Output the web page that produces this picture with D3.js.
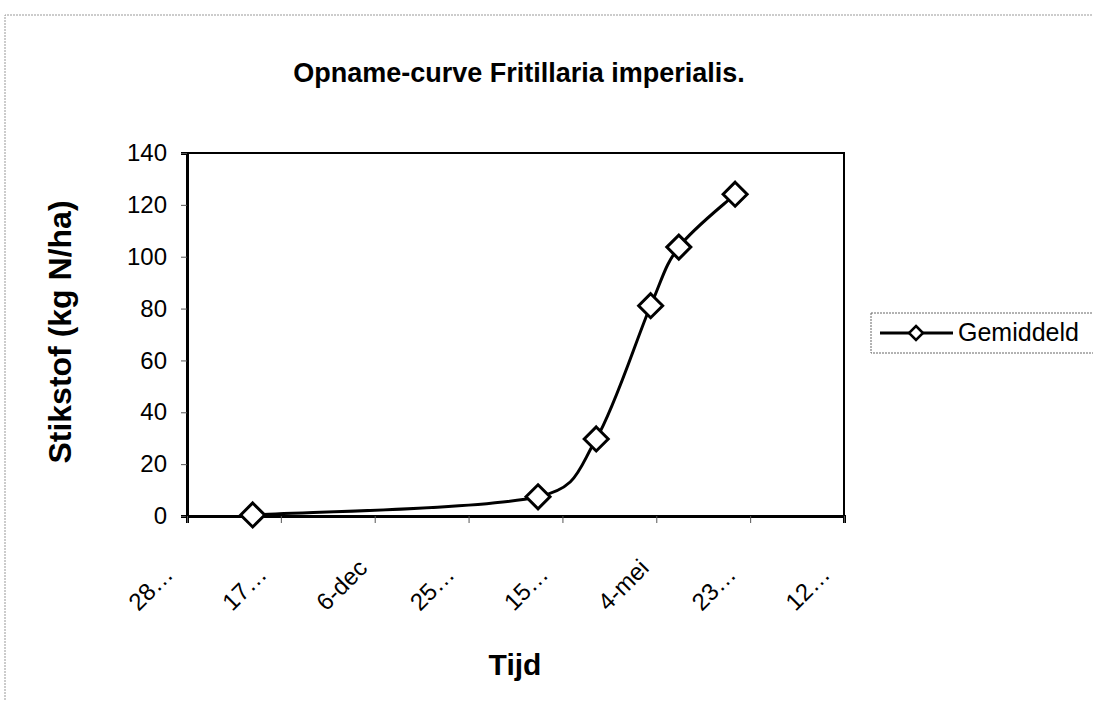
<!DOCTYPE html>
<html>
<head>
<meta charset="utf-8">
<script src="https://cdn.jsdelivr.net/npm/d3@7"></script>
<style>
  body { margin: 0; background: #fff; }
  svg { font-family: "Liberation Sans", Arial, sans-serif; }
</style>
</head>
<body>
<div class="chart"></div>
<script>
// Data
const dates = ['1999-10-02', '2000-03-02', '2000-04-02', '2000-05-01', '2000-05-16', '2000-06-15']
const values = [0.4, 7.4, 29.7, 81.1, 103.7, 124.1]

const tickDates = ['1999-08-28', '1999-10-17', '1999-12-06', '2000-01-25', '2000-03-15', '2000-05-04', '2000-06-23', '2000-08-12']
const tickLabels = ['28\u2026', '17\u2026', '6-dec', '25\u2026', '15\u2026', '4-mei', '23\u2026', '12\u2026']
const yTicks = [0, 20, 40, 60, 80, 100, 120, 140]

const seriesName = 'Gemiddeld'

const width = 1093
const height = 712

const parse = d3.utcParse('%Y-%m-%d')
const points = dates.map((d, i) => ({ date: parse(d), value: values[i] }))

// spreadsheet-style smoothing: bezier arms of 1/6 of neighbour span,
// capped at half the segment length
const smoothCurve = context => {
    let pts = []
    return {
        areaStart() {},
        areaEnd() {},
        lineStart() { pts = [] },
        point(px, py) { pts.push([px, py]) },
        lineEnd() {
            const n = pts.length
            if (!n) return
            context.moveTo(pts[0][0], pts[0][1])
            for (let i = 0; i < n - 1; i++) {
                const p0 = pts[Math.max(i - 1, 0)]
                const p1 = pts[i]
                const p2 = pts[i + 1]
                const p3 = pts[Math.min(i + 2, n - 1)]
                const seg = Math.hypot(p2[0] - p1[0], p2[1] - p1[1])
                let a = [(p2[0] - p0[0]) / 6, (p2[1] - p0[1]) / 6]
                let b = [(p3[0] - p1[0]) / 6, (p3[1] - p1[1]) / 6]
                const la = Math.hypot(a[0], a[1])
                const lb = Math.hypot(b[0], b[1])
                if (la > seg / 2) a = a.map(v => v * seg / 2 / la)
                if (lb > seg / 2) b = b.map(v => v * seg / 2 / lb)
                context.bezierCurveTo(p1[0] + a[0], p1[1] + a[1], p2[0] - b[0], p2[1] - b[1], p2[0], p2[1])
            }
        }
    }
}

const svg = d3.select('.chart')
    .append('svg')
    .attr('width', width)
    .attr('height', height)

// outer chart frame (dotted, partly cut off)
svg.append('path')
    .attr('d', 'M5,700 L5,15 L1093,15')
    .attr('fill', 'none')
    .attr('stroke', '#999')
    .attr('stroke-width', 1)
    .attr('stroke-dasharray', '2,1')

const x = d3.scaleUtc()
    .domain([parse(tickDates[0]), parse(tickDates[tickDates.length - 1])])
    .range([187, 844])

const y = d3.scaleLinear()
    .domain([0, 140])
    .range([516, 153])

// plot area border
svg.append('rect')
    .attr('x', x.range()[0])
    .attr('y', y.range()[1])
    .attr('width', x.range()[1] - x.range()[0])
    .attr('height', y.range()[0] - y.range()[1])
    .attr('fill', 'none')
    .attr('stroke', '#000')
    .attr('stroke-width', 2)

// y axis
const yAxis = svg.append('g')
    .attr('transform', `translate(${x.range()[0]},0)`)
    .call(d3.axisLeft(y).tickValues(yTicks).tickSize(6).tickPadding(14))
yAxis.select('.domain').attr('stroke-width', 3)
yAxis.selectAll('.tick line').attr('stroke', '#555')
yAxis.selectAll('text')
    .attr('font-size', 24)
    .attr('font-family', '"Liberation Sans", Arial, sans-serif')
    .attr('fill', '#000')

// x axis
const xAxis = svg.append('g')
    .attr('transform', `translate(0,${y.range()[0]})`)
    .call(d3.axisBottom(x)
        .tickValues(tickDates.map(parse))
        .tickFormat((d, i) => tickLabels[i])
        .tickSize(7))
xAxis.select('.domain').attr('stroke-width', 3)
xAxis.selectAll('.tick line').attr('stroke', '#555')
xAxis.selectAll('text')
    .attr('font-size', 24)
    .attr('font-family', '"Liberation Sans", Arial, sans-serif')
    .attr('fill', '#000')
    .attr('text-anchor', 'start')
    .attr('dy', null)
    .attr('y', 0)
    .attr('transform', 'translate(-49,96) rotate(-45)')

// smoothed line
const line = d3.line()
    .x(d => x(d.date))
    .y(d => y(d.value))
    .curve(smoothCurve)

svg.append('path')
    .datum(points)
    .attr('d', line)
    .attr('fill', 'none')
    .attr('stroke', '#000')
    .attr('stroke-width', 3)

const diamond = r => `M0,${-r} L${r},0 L0,${r} L${-r},0 Z`

svg.selectAll('.marker')
    .data(points)
    .enter()
    .append('path')
    .attr('class', 'marker')
    .attr('d', diamond(12))
    .attr('transform', d => `translate(${x(d.date)},${y(d.value)})`)
    .attr('fill', '#fff')
    .attr('stroke', '#000')
    .attr('stroke-width', 3)

// title
svg.append('text')
    .attr('x', 519)
    .attr('y', 82)
    .attr('text-anchor', 'middle')
    .attr('font-size', 27)
    .attr('font-weight', 'bold')
    .text('Opname-curve Fritillaria imperialis.')

// axis titles
svg.append('text')
    .attr('x', 515)
    .attr('y', 675)
    .attr('text-anchor', 'middle')
    .attr('font-size', 30)
    .attr('font-weight', 'bold')
    .text('Tijd')

svg.append('text')
    .attr('transform', 'translate(71,332) rotate(-90)')
    .attr('text-anchor', 'middle')
    .attr('font-size', 32)
    .attr('font-weight', 'bold')
    .text('Stikstof (kg N/ha)')

// legend
const legend = svg.append('g')
legend.append('rect')
    .attr('x', 871)
    .attr('y', 313)
    .attr('width', 240)
    .attr('height', 40)
    .attr('fill', '#fff')
    .attr('stroke', '#666')
    .attr('stroke-width', 1)
    .attr('stroke-dasharray', '2,1')
legend.append('line')
    .attr('x1', 880)
    .attr('x2', 953)
    .attr('y1', 333)
    .attr('y2', 333)
    .attr('stroke', '#000')
    .attr('stroke-width', 3)
legend.append('path')
    .attr('d', diamond(7))
    .attr('transform', 'translate(916,333)')
    .attr('fill', '#fff')
    .attr('stroke', '#000')
    .attr('stroke-width', 2.5)
legend.append('text')
    .attr('x', 958)
    .attr('y', 341)
    .attr('font-size', 25)
    .text(seriesName)
</script>
</body>
</html>
